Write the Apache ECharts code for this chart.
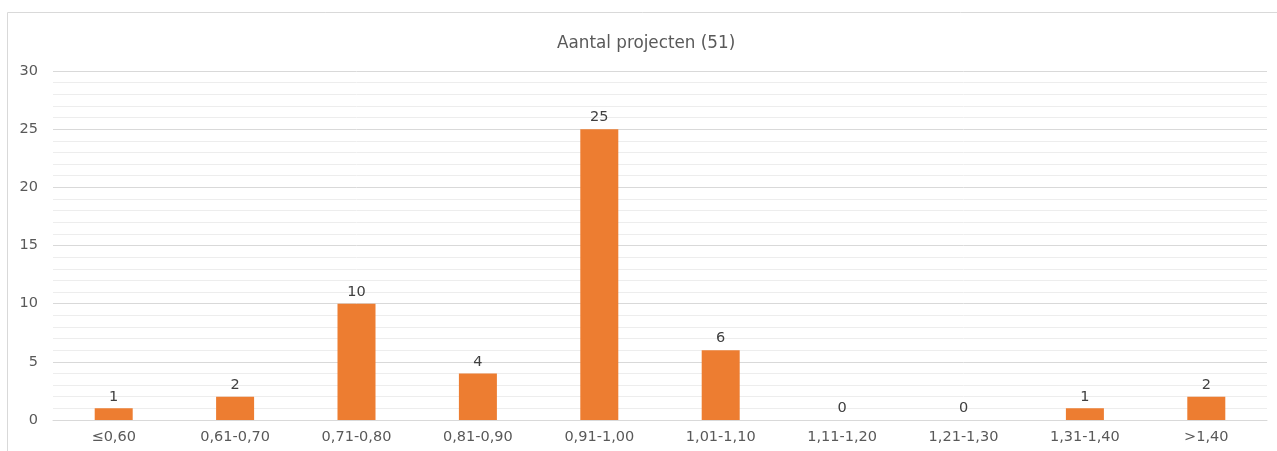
<!DOCTYPE html>
<html><head><meta charset="utf-8">
<script src="https://cdn.jsdelivr.net/npm/echarts@6/dist/echarts.min.js"></script>
<style>html,body{margin:0;padding:0;background:#fff}#c{width:1277px;height:451px}</style>
</head><body><div id="c"></div>
<script>
const categories = ['≤0,60','0,61-0,70','0,71-0,80','0,81-0,90','0,91-1,00','1,01-1,10','1,11-1,20','1,21-1,30','1,31-1,40','>1,40'];
const values = [1,2,10,4,25,6,0,0,1,2];
const titleText = 'Aantal projecten (51)';
const chart = echarts.init(document.getElementById('c'));
const font = '"DejaVu Sans", sans-serif';
chart.setOption({
  animation:false,
  title:{text:titleText,left:552,top:30,textStyle:{fontFamily:font,fontSize:16.8,fontWeight:'normal',color:'#595959'}},
  graphic:[{type:'polyline',shape:{points:[[7.5,460],[7.5,12.5],[1290,12.5]]},style:{stroke:'#d9d9d9',lineWidth:1,fill:null},silent:true}],
  grid:{left:53,right:10,top:71,bottom:31},
  xAxis:{type:'category',data:categories,axisTick:{show:false},axisLine:{lineStyle:{color:'#d9d9d9',width:1}},
    axisLabel:{fontFamily:font,fontSize:14.5,color:'#595959',margin:10}},
  yAxis:{type:'value',min:0,max:30,interval:5,axisLine:{show:false},axisTick:{show:false},
    axisLabel:{fontFamily:font,fontSize:14.5,color:'#595959',margin:15},
    splitLine:{lineStyle:{color:'#d9d9d9',width:1}},
    minorTick:{show:false,splitNumber:5},
    minorSplitLine:{show:true,lineStyle:{color:'#ededed',width:1}}},
  series:[{type:'bar',data:values,barWidth:38,itemStyle:{color:'#ED7D31'},
    label:{show:true,position:'top',distance:4,fontFamily:font,fontSize:14.5,color:'#404040'}}]
});
</script></body></html>
